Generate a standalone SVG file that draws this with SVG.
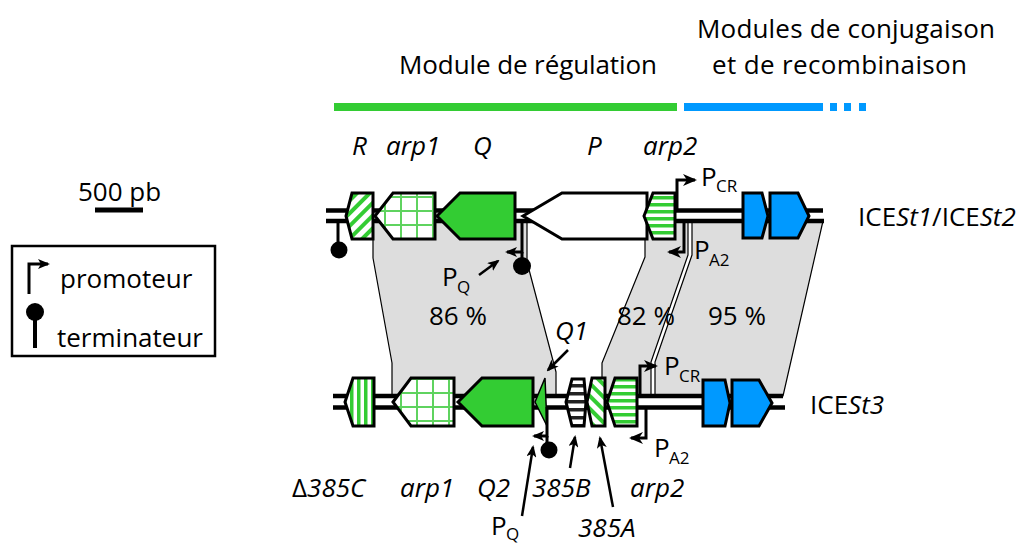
<svg xmlns="http://www.w3.org/2000/svg" width="1028" height="545" viewBox="0 0 1028 545">
<defs>
<style>
text{font-family:"Open Sans","Noto Sans",sans-serif;font-size:26px;fill:#000}
.it{font-style:italic}
.sub{font-size:17px}
.gene{stroke:#000;stroke-width:3;stroke-linejoin:miter}
.dna{stroke:#000;stroke-width:4.5;fill:none}
.reg{fill:#dddddd;stroke:#000;stroke-width:1.2;stroke-linejoin:round}
.pro{stroke:#000;stroke-width:3;fill:none}
.ann{stroke:#000;stroke-width:2.5;fill:none}
.green{fill:#33cc33}
.blue{fill:#0099ff}
</style>
<marker id="ah" markerUnits="userSpaceOnUse" markerWidth="14" markerHeight="12" refX="12" refY="6" orient="auto">
<path d="M0,0 L14,6 L0,12 L4,6 Z" fill="#000"/>
</marker>
<marker id="ah2" markerUnits="userSpaceOnUse" markerWidth="12" markerHeight="10" refX="10" refY="5" orient="auto">
<path d="M0,0 L12,5 L0,10 L3,5 Z" fill="#000"/>
</marker>
<pattern id="diagR" patternUnits="userSpaceOnUse" width="9" height="9" patternTransform="rotate(45)">
<rect width="9" height="9" fill="#fff"/><rect width="4" height="9" fill="#33cc33"/>
</pattern>
<pattern id="diagL" patternUnits="userSpaceOnUse" width="9" height="9" patternTransform="rotate(-45)">
<rect width="9" height="9" fill="#fff"/><rect width="4" height="9" fill="#33cc33"/>
</pattern>
<pattern id="hstr" patternUnits="userSpaceOnUse" width="7" height="7">
<rect width="7" height="7" fill="#fff"/><rect width="7" height="3.5" fill="#33cc33"/>
</pattern>
<pattern id="vstr" patternUnits="userSpaceOnUse" width="7" height="7">
<rect width="7" height="7" fill="#fff"/><rect width="3.5" height="7" fill="#33cc33"/>
</pattern>
<pattern id="bstr" patternUnits="userSpaceOnUse" width="8" height="8">
<rect width="8" height="8" fill="#fff"/><rect width="8" height="3.5" fill="#222"/>
</pattern>
<pattern id="grid" patternUnits="userSpaceOnUse" width="16" height="14">
<rect width="16" height="14" fill="#fff"/><rect x="0" width="2" height="14" fill="#5fd35f"/><rect y="0" width="16" height="2" fill="#5fd35f"/>
</pattern>
</defs>

<!-- Titles -->
<g id="titles">
<text x="697" y="38" textLength="298">Modules de conjugaison</text>
<text x="712" y="74" textLength="255">et de recombinaison</text>
<text x="399" y="74" textLength="258">Module de régulation</text>
<rect x="334" y="103" width="343" height="8" fill="#33cc33"/>
<rect x="684" y="103" width="139" height="8" fill="#0099ff"/>
<rect x="830" y="103" width="7" height="8" fill="#0099ff"/>
<rect x="844" y="103" width="7" height="8" fill="#0099ff"/>
<rect x="859" y="103" width="7" height="8" fill="#0099ff"/>
</g>

<!-- Legend -->
<g id="scale">
<text x="78" y="201">500 pb</text>
<line x1="95" y1="210" x2="143" y2="210" stroke="#000" stroke-width="5"/>
</g>
<g id="legend">
<rect x="12" y="246" width="203" height="110" fill="#fff" stroke="#000" stroke-width="2.5"/>
<path d="M29,294 L29,264 L48,264" class="pro" marker-end="url(#ah2)"/>
<text x="60" y="288">promoteur</text>
<circle cx="35" cy="312" r="9" fill="#000"/>
<line x1="35" y1="312" x2="35" y2="348" stroke="#000" stroke-width="4"/>
<text x="57" y="347">terminateur</text>
</g>

<!-- Connectors: homology regions -->
<g id="connectors">
<polygon class="reg" points="373,221 527,221 527,262 556,372 556,396 392,396 392,363 373,258"/>
<polygon class="reg" points="645,221 688,221 688,255 651,362 651,396 602,396 602,363 645,257"/>
<polygon class="reg" points="692,221 823,221 783,396 655,396 655,362 692,255"/>
</g>

<!-- DNA -->
<g id="dna-top">
<line class="dna" x1="326" y1="210.5" x2="823" y2="210.5"/>
<line class="dna" x1="326" y1="221" x2="824" y2="221"/>
</g>
<g id="dna-bottom">
<line class="dna" x1="333" y1="396" x2="783" y2="396"/>
<line class="dna" x1="333" y1="407.5" x2="785" y2="407.5"/>
</g>

<!-- Top genes -->
<g id="gene-R"><polygon class="gene" fill="url(#diagR)" points="352,193 373,193 373,239 352,239 346,216"/></g>
<g id="gene-arp1-top"><polygon class="gene" fill="url(#grid)" points="375,216 393,193 435,193 435,239 393,239"/></g>
<g id="gene-Q"><polygon class="gene green" points="437,216 460,193 515,193 515,239 460,239"/></g>
<g id="gene-P"><polygon class="gene" fill="#fff" points="523,216 562,193 647,193 647,239 562,239"/></g>
<g id="gene-arp2-top"><polygon class="gene" fill="url(#hstr)" points="644,216 653,193 675,193 675,239 653,239"/></g>
<g id="gene-blue1-top"><polygon class="gene blue" points="743,193 762,193 768,216 762,238 743,238"/></g>
<g id="gene-blue2-top"><polygon class="gene blue" points="770,193 798,193 809,216 798,238 770,238"/></g>

<!-- Top promoters / terminators -->
<g id="term-R">
<line x1="338" y1="221" x2="338" y2="245" stroke="#000" stroke-width="3"/>
<circle cx="339" cy="250" r="8.5" fill="#000"/>
</g>
<g id="prom-PQ-top">
<path class="pro" d="M522,221 L522,252 L507,252" marker-end="url(#ah2)"/>
<line x1="522" y1="252" x2="522" y2="262" stroke="#000" stroke-width="3"/>
<circle cx="522" cy="266" r="9" fill="#000"/>
</g>
<g id="prom-PCR-top"><path class="pro" d="M677,210 L677,180 L695,180" marker-end="url(#ah)"/></g>
<g id="prom-PA2-top"><path class="pro" d="M684,221 L684,252 L669,252" marker-end="url(#ah)"/></g>

<!-- Bottom genes -->
<g id="gene-d385C"><polygon class="gene" fill="url(#vstr)" points="353,378 374,378 374,426 353,426 345,402"/></g>
<g id="gene-arp1-bot"><polygon class="gene" fill="url(#grid)" points="393,402 411,378 454,378 454,426 411,426"/></g>
<g id="gene-Q2"><polygon class="gene green" points="458,402 482,378 533,378 533,426 482,426"/></g>
<g id="gene-Q1"><polygon class="green" stroke="#000" stroke-width="1.5" points="545,378 547,426 535,402"/></g>
<g id="gene-385B"><polygon class="gene" fill="url(#bstr)" points="572,379 584,379 586,402 584,426 572,426 566,402"/></g>
<g id="gene-385A"><polygon class="gene" fill="url(#diagL)" points="592,378 605,378 605,426 592,426 587,402"/></g>
<g id="gene-arp2-bot"><polygon class="gene" fill="url(#hstr)" points="607,402 615,378 637,378 637,426 615,426"/></g>
<g id="gene-blue1-bot"><polygon class="gene blue" points="703,380 725,380 730,403 725,426 703,426"/></g>
<g id="gene-blue2-bot"><polygon class="gene blue" points="732,380 759,380 772,403 759,426 732,426"/></g>

<!-- Bottom promoters / terminators -->
<g id="prom-PQ-bot">
<path class="pro" d="M547,407 L547,436 L534,436" marker-end="url(#ah2)"/>
<line x1="547" y1="436" x2="547" y2="445" stroke="#000" stroke-width="3"/>
<circle cx="549" cy="450" r="8.5" fill="#000"/>
</g>
<g id="prom-PCR-bot"><path class="pro" d="M640,396 L640,366 L656,366" marker-end="url(#ah)"/></g>
<g id="prom-PA2-bot"><path class="pro" d="M646,408 L646,438 L631,438" marker-end="url(#ah)"/></g>

<!-- Annotation arrows -->
<g id="annot-arrows">
<line class="ann" x1="479" y1="275" x2="498" y2="261" marker-end="url(#ah2)"/>
<line class="ann" x1="568" y1="350" x2="548" y2="370" marker-end="url(#ah2)"/>
<line class="ann" x1="522" y1="516" x2="533" y2="447" marker-end="url(#ah2)"/>
<line class="ann" x1="570" y1="468" x2="575" y2="437" marker-end="url(#ah2)"/>
<line class="ann" x1="613" y1="507" x2="600" y2="438" marker-end="url(#ah2)"/>
</g>

<!-- Labels -->
<g id="labels">
<text class="it" x="352" y="155">R</text>
<text class="it" x="386" y="155">arp1</text>
<text class="it" x="473" y="155">Q</text>
<text class="it" x="587" y="155">P</text>
<text class="it" x="643" y="155">arp2</text>
<text x="701" y="186">P</text><text class="sub" x="716" y="192">CR</text>
<text x="694" y="259">P</text><text class="sub" x="709" y="266">A2</text>
<text x="858" y="226">ICE<tspan class="it">St1</tspan>/ICE<tspan class="it">St2</tspan></text>
<text x="442" y="286">P</text><text class="sub" x="457" y="293">Q</text>
<text x="429" y="325">86 %</text>
<text x="617" y="325">82 %</text>
<text x="708" y="325">95 %</text>
<text class="it" x="555" y="340">Q1</text>
<text x="664" y="375">P</text><text class="sub" x="679" y="382">CR</text>
<text x="810" y="414">ICE<tspan class="it">St3</tspan></text>
<text x="654" y="457">P</text><text class="sub" x="669" y="464">A2</text>
<text x="292" y="497">Δ<tspan class="it">385C</tspan></text>
<text class="it" x="400" y="497">arp1</text>
<text class="it" x="477" y="497">Q2</text>
<text class="it" x="532" y="497">385B</text>
<text class="it" x="630" y="497">arp2</text>
<text x="491" y="535">P</text><text class="sub" x="506" y="540">Q</text>
<text class="it" x="578" y="537">385A</text>
</g>
</svg>
